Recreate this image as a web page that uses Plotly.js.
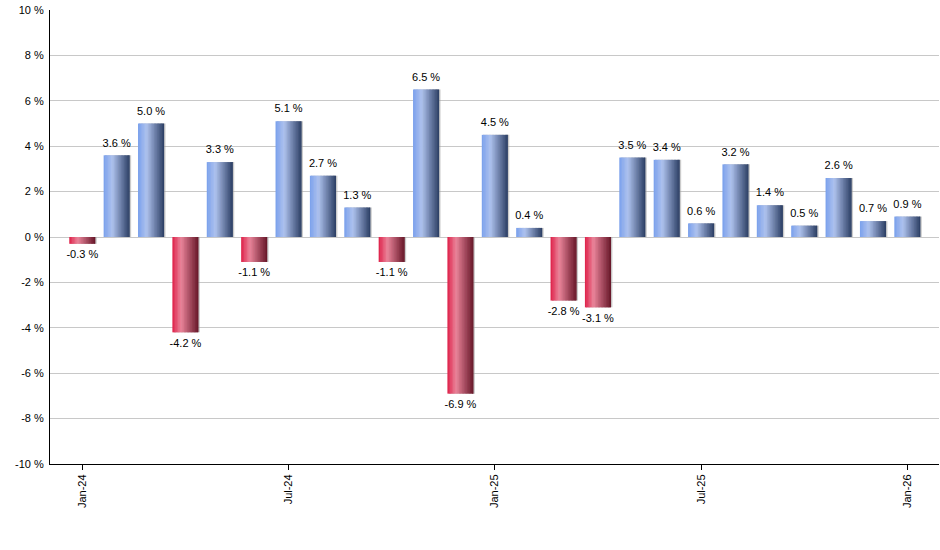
<!DOCTYPE html>
<html>
<head>
<meta charset="utf-8">
<script src="https://cdn.plot.ly/plotly-3.0.1.min.js"></script>
<style>
  html, body { margin: 0; padding: 0; background: white; }
  #chart { width: 940px; height: 550px; }
</style>
</head>
<body>
<div id="chart"></div>
<script>
// monthly returns, Jan-24 to Jan-26
const months = ['Jan-24', 'Feb-24', 'Mar-24', 'Apr-24', 'May-24', 'Jun-24', 'Jul-24', 'Aug-24', 'Sep-24',
  'Oct-24', 'Nov-24', 'Dec-24', 'Jan-25', 'Feb-25', 'Mar-25', 'Apr-25', 'May-25', 'Jun-25', 'Jul-25',
  'Aug-25', 'Sep-25', 'Oct-25', 'Nov-25', 'Dec-25', 'Jan-26'];
const returns = [-0.3, 3.6, 5.0, -4.2, 3.3, -1.1, 5.1, 2.7, 1.3, -1.1, 6.5, -6.9, 4.5, 0.4, -2.8, -3.1,
  3.5, 3.4, 0.6, 3.2, 1.4, 0.5, 2.6, 0.7, 0.9];
const tickMonths = ['Jan-24', 'Jul-24', 'Jan-25', 'Jul-25', 'Jan-26'];
const yTicks = [-10, -8, -6, -4, -2, 0, 2, 4, 6, 8, 10];
const yTickText = ['-10 %', '-8 %', '-6 %', '-4 %', '-2 %', '0 %', '2 %', '4 %', '6 %', '8 %', '10 %'];

// gradient stops across the bar (left -> right)
const blueStops = [[0, [122, 160, 236]], [0.33, [174, 194, 238]], [1, [42, 60, 98]]];
const redStops = [[0, [222, 32, 72]], [0.33, [234, 132, 154]], [1, [100, 20, 38]]];

function mix(stops, t) {
  for (let i = 1; i < stops.length; i++) {
    if (t <= stops[i][0]) {
      const a = stops[i - 1], b = stops[i];
      const f = (t - a[0]) / (b[0] - a[0]);
      const c = a[1].map((v, k) => Math.round(v + (b[1][k] - v) * f));
      return 'rgb(' + c.join(',') + ')';
    }
  }
  return 'rgb(' + stops[stops.length - 1][1].join(',') + ')';
}

const BW = 0.76;
const N = 18;
const step = BW / N;
const traces = [];

// little shadow behind the bars
traces.push({
  type: 'bar', x: months, y: returns,
  width: BW, offset: -BW / 2 + 0.04,
  marker: { color: 'rgba(160,160,160,0.55)', line: { width: 0 } },
  hoverinfo: 'skip', showlegend: false
});

for (let i = 0; i < N; i++) {
  const t = (i + 0.5) / N;
  traces.push({
    type: 'bar', x: months, y: returns,
    width: i < N - 1 ? step * 1.4 : step,
    offset: -BW / 2 + i * step,
    marker: {
      color: returns.map(v => v >= 0 ? mix(blueStops, t) : mix(redStops, t)),
      line: { width: 0 }
    },
    hoverinfo: 'skip', showlegend: false
  });
}

// value labels above / below the bars
traces.push({
  type: 'scatter', mode: 'markers+text', x: months, y: returns,
  text: returns.map(v => v.toFixed(1) + ' %'),
  textposition: returns.map(v => v >= 0 ? 'top center' : 'bottom center'),
  marker: { size: 8, color: 'rgba(0,0,0,0)', line: { width: 0 } },
  cliponaxis: false,
  textfont: { family: 'Arial, Liberation Sans, sans-serif', size: 11, color: '#000' },
  hoverinfo: 'skip', showlegend: false
});

const layout = {
  width: 940, height: 550,
  margin: { t: 10, l: 50, r: 1, b: 86 },
  paper_bgcolor: 'white', plot_bgcolor: 'white',
  barmode: 'overlay',
  font: { family: 'Arial, Liberation Sans, sans-serif', size: 11, color: '#000' },
  xaxis: {
    type: 'category',
    range: [-0.94, 24.92],
    tickmode: 'array', tickvals: tickMonths, ticktext: tickMonths,
    tickangle: -90,
    ticks: 'outside', ticklen: 5, tickcolor: '#000', tickwidth: 1,
    showline: true, linecolor: '#000', linewidth: 1,
    showgrid: false, zeroline: false
  },
  yaxis: {
    range: [-10, 10],
    tickmode: 'array', tickvals: yTicks, ticktext: yTickText,
    showline: true, linecolor: '#000', linewidth: 1,
    gridcolor: '#c8c8c8', gridwidth: 1,
    zeroline: false, ticks: '', ticklabelstandoff: 3
  },
  showlegend: false
};

Plotly.newPlot('chart', traces, layout, { displayModeBar: false, staticPlot: true });
</script>
</body>
</html>
